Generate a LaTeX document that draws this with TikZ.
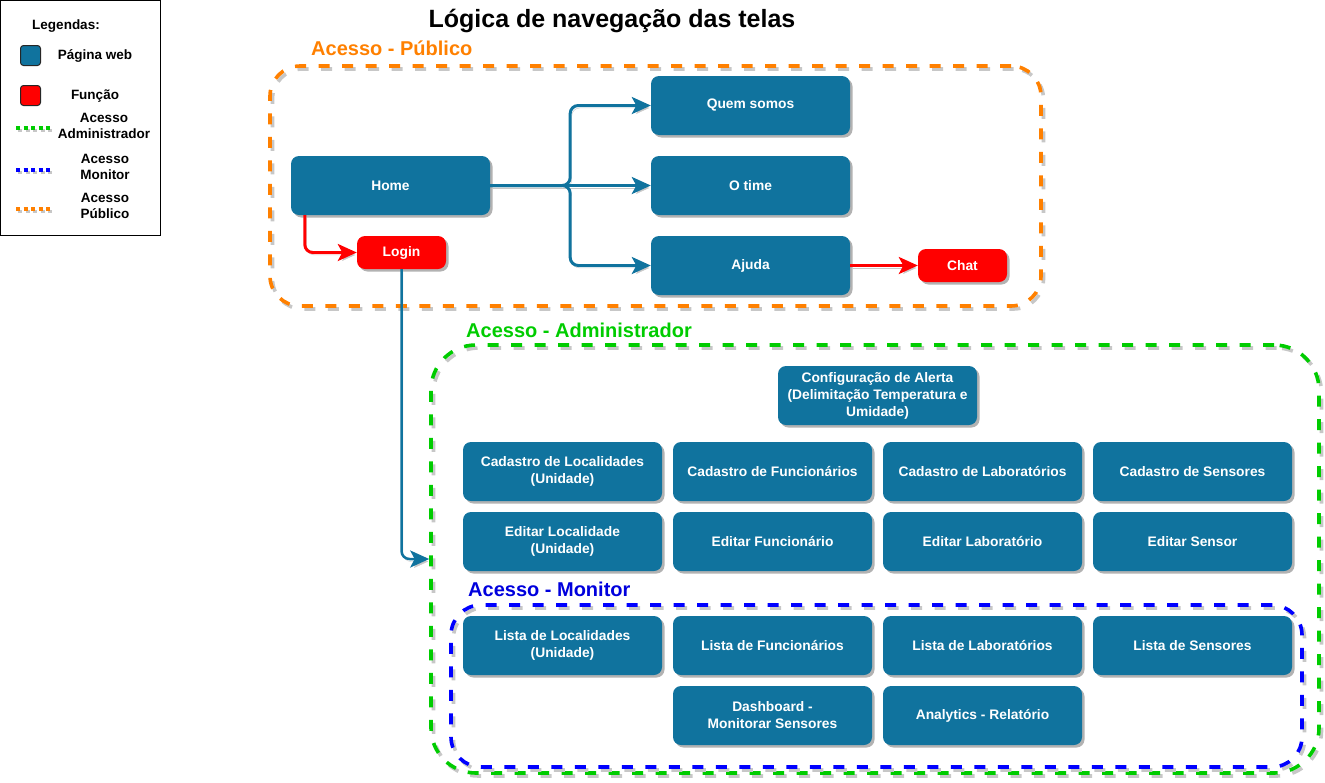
\documentclass[tikz,border=0pt]{standalone}
\usepackage{fontspec}
\setmainfont{Liberation Sans}
\usetikzlibrary{arrows.meta,shadows,calc}
\definecolor{pg}{HTML}{10739E}
\definecolor{fn}{HTML}{FF0000}
\definecolor{og}{HTML}{FF8000}
\definecolor{gr}{HTML}{00CC00}
\definecolor{bl}{HTML}{0000FF}
\definecolor{blt}{HTML}{0000DD}
\newcommand\nodefnt{\fontsize{13.8}{17}\bfseries\selectfont}
\newcommand\legfnt{\fontsize{13.5}{16}\bfseries\selectfont}
\tikzset{
  pgbox/.style={fill=pg, text=white, rounded corners=8pt, minimum width=199pt,
    minimum height=59pt, inner sep=0pt, align=center, font=\nodefnt,
    drop shadow={shadow xshift=2.5pt, shadow yshift=-2.5pt, opacity=0.3, fill=black}},
  fnbox/.style={pgbox, fill=fn, minimum width=89pt, minimum height=33pt},
  cont/.style={draw=#1, line width=3.6pt, dash pattern=on 11pt off 12.5pt,
    inner sep=0pt, fill=none,
    preaction={draw=black!22, line width=3.6pt, dash pattern=on 11pt off 12.5pt,
      transform canvas={shift={(2.5pt,-3pt)}}}},
  clabel/.style={anchor=west, inner sep=0pt, font=\fontsize{20}{22}\bfseries\selectfont, text=#1},
  tip/.style={-{Stealth[length=19pt,width=17pt,inset=4.5pt]}},
  ash/.style={preaction={draw=black!22, transform canvas={shift={(1.5pt,-2.5pt)}}}},
  blarrow/.style={draw=pg, line width=3pt, rounded corners=8pt, tip, ash},
  rdarrow/.style={draw=fn, line width=3pt, rounded corners=8pt, tip, ash},
  legtxt/.style={font=\legfnt, align=center, inner sep=0pt},
  legsq/.style={minimum width=20pt, minimum height=20pt, inner sep=0pt,
    rounded corners=3pt, draw=black!85, line width=1pt},
  legdash/.style={draw=#1, line width=3.5pt, dash pattern=on 4pt off 3.5pt,
    preaction={draw=black!22, line width=3.5pt, dash pattern=on 4pt off 3.5pt,
      transform canvas={shift={(2pt,-2.5pt)}}}},
}
\begin{document}
\begin{tikzpicture}[x=1pt,y=-1pt]
\useasboundingbox (0,0) rectangle (1325,782);

% legend
\draw[black, line width=1pt] (0.5,0.5) rectangle (160.5,235.5);
\node[legtxt] (lgt) at (66,26) {Legendas:};
\node[legsq, fill=pg] (lsq1) at (30.5,55.5) {};
\node[legtxt] (lt1) at (95,56) {Página web};
\node[legsq, fill=fn] (lsq2) at (30.5,95.5) {};
\node[legtxt] (lt2) at (95,96) {Função};
\draw[legdash=gr] (16,128) -- (52,128);
\node[legtxt] (lt3) at (104,126) {Acesso\\Administrador};
\draw[legdash=bl] (16,170) -- (52,170);
\node[legtxt] (lt4) at (105,167) {Acesso\\Monitor};
\draw[legdash=og] (16,209) -- (52,209);
\node[legtxt] (lt5) at (105,206) {Acesso\\Público};

% title
\node[font=\fontsize{25}{28}\bfseries\selectfont, inner sep=0pt] (title) at (612,21) {Lógica de navegação das telas};

% containers
\node[cont=og, rounded corners=30pt, minimum width=771pt, minimum height=240pt] (pub) at (655.5,186) {};
\node[clabel=og] (publ) at (311,48) {Acesso - Público};
\node[cont=gr, rounded corners=45pt, minimum width=888pt, minimum height=428pt] (adm) at (875,559) {};
\node[clabel=gr] (adml) at (466,330) {Acesso - Administrador};
\node[cont=bl, rounded corners=30pt, minimum width=851pt, minimum height=162pt] (mon) at (876.5,686) {};
\node[clabel=blt] (monl) at (468,589) {Acesso - Monitor};

% public nodes
\node[pgbox] (home) at (390.5,185.5) {Home};
\node[pgbox] (quem) at (750.5,105.5) {Quem somos};
\node[pgbox] (otime) at (750.5,185.5) {O time};
\node[pgbox] (ajuda) at (750.5,265.5) {Ajuda};
\node[fnbox] (login) at (401.5,252.5) {Login};
\node[fnbox] (chat) at (962.5,265.5) {Chat};

% admin nodes
\node[pgbox] (conf) at (877.5,395.5) {Configuração de Alerta\\(Delimitação Temperatura e\\Umidade)};
\node[pgbox] (cloc) at (562.5,471.5) {Cadastro de Localidades\\(Unidade)};
\node[pgbox] (cfun) at (772.5,471.5) {Cadastro de Funcionários};
\node[pgbox] (clab) at (982.5,471.5) {Cadastro de Laboratórios};
\node[pgbox] (csen) at (1192.5,471.5) {Cadastro de Sensores};
\node[pgbox] (eloc) at (562.5,541.5) {Editar Localidade\\(Unidade)};
\node[pgbox] (efun) at (772.5,541.5) {Editar Funcionário};
\node[pgbox] (elab) at (982.5,541.5) {Editar Laboratório};
\node[pgbox] (esen) at (1192.5,541.5) {Editar Sensor};

% monitor nodes
\node[pgbox] (lloc) at (562.5,645.5) {Lista de Localidades\\(Unidade)};
\node[pgbox] (lfun) at (772.5,645.5) {Lista de Funcionários};
\node[pgbox] (llab) at (982.5,645.5) {Lista de Laboratórios};
\node[pgbox] (lsen) at (1192.5,645.5) {Lista de Sensores};
\node[pgbox] (dash) at (772.5,715.5) {Dashboard -\\Monitorar Sensores};
\node[pgbox] (anal) at (982.5,715.5) {Analytics - Relatório};

% connectors
\draw[blarrow] (home.east) -- ++(80,0) |- (quem.west);
\draw[blarrow] (home.east) -- (otime.west);
\draw[blarrow] (home.east) -- ++(80,0) |- (ajuda.west);
\draw[rdarrow] ($(home.south west)+(14,0)$) |- (login.west);
\draw[rdarrow] (ajuda.east) -- (chat.west);
\draw[blarrow, line width=2.5pt] (login.south) |- (adm.west);
\end{tikzpicture}
\end{document}
